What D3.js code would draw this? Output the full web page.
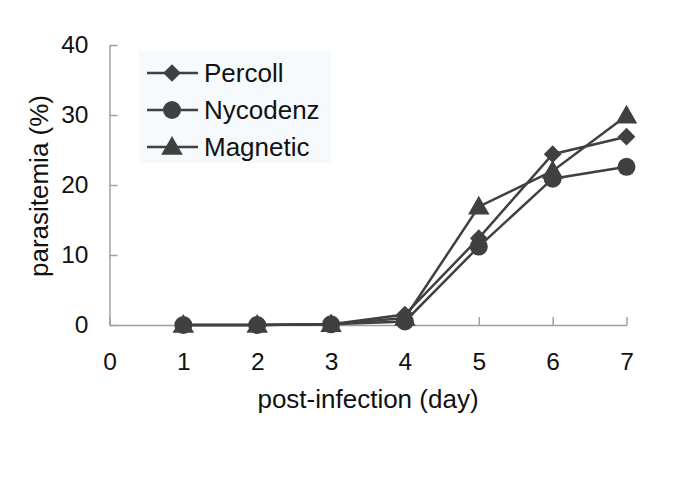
<!DOCTYPE html>
<html>
<head>
<meta charset="utf-8">
<script src="https://cdn.jsdelivr.net/npm/d3@7"></script>
<style>
  body { margin: 0; background: #fff; }
  text { font-family: "Liberation Sans", Arial, sans-serif; fill: #111; }
</style>
</head>
<body>
<script>
// data
const days = [1, 2, 3, 4, 5, 6, 7];
const percoll = [0, 0, 0.1, 1.5, 12.4, 24.4, 26.9];
const nycodenz = [0, 0, 0.1, 0.5, 11.2, 20.9, 22.6];
const magnetic = [0, 0, 0.1, 1.0, 16.9, 22.0, 29.9];
const seriesNames = ["Percoll", "Nycodenz", "Magnetic"];
const xTicks = [0, 1, 2, 3, 4, 5, 6, 7];
const yTicks = [0, 10, 20, 30, 40];

const width = 685, height = 495;
const ink = "#404040", axisColor = "#a0a0a0";
const fontSize = 26, tickFont = 24.5;

const svg = d3.select("body").append("svg")
    .attr("width", width)
    .attr("height", height);

const x = d3.scaleLinear().domain([0, 7]).range([109.5, 626.5]);
const y = d3.scaleLinear().domain([0, 40]).range([325, 45]);

// axes: ticks point inward
const xAxis = svg.append("g")
    .attr("transform", "translate(0," + y(0) + ")")
    .call(d3.axisBottom(x).tickValues(xTicks).tickFormat(d3.format("d"))
      .tickSizeInner(-8).tickSizeOuter(0).tickPadding(28));
const yAxis = svg.append("g")
    .attr("transform", "translate(" + x(0) + ",0)")
    .call(d3.axisLeft(y).tickValues(yTicks).tickFormat(d3.format("d"))
      .tickSizeInner(-8).tickSizeOuter(0).tickPadding(21));

[xAxis, yAxis].forEach(function(a) {
  a.select(".domain").attr("stroke", axisColor).attr("stroke-width", 1.5);
  a.selectAll(".tick line").attr("stroke", axisColor).attr("stroke-width", 1.5);
  a.selectAll(".tick text")
    .attr("font-size", tickFont)
    .attr("font-family", "Liberation Sans, Arial, sans-serif")
    .attr("fill", "#111");
});
xAxis.selectAll(".tick text").attr("dy", "0.71em");

svg.append("text")
    .attr("x", 368)
    .attr("y", 408)
    .attr("text-anchor", "middle")
    .attr("font-size", fontSize)
    .text("post-infection (day)");

svg.append("text")
    .attr("transform", "translate(48,186) rotate(-90)")
    .attr("text-anchor", "middle")
    .attr("font-size", fontSize)
    .text("parasitemia (%)");

const series = [
  { name: seriesNames[0], values: percoll, symbol: d3.symbolDiamond2, size: 200 },
  { name: seriesNames[1], values: nycodenz, symbol: d3.symbolCircle, size: 255 },
  { name: seriesNames[2], values: magnetic, symbol: d3.symbolTriangle, size: 200 }
];

const line = d3.line()
    .x(function(d, i) { return x(days[i]); })
    .y(function(d) { return y(d); });

series.forEach(function(s) {
  svg.append("path")
      .attr("d", line(s.values))
      .attr("fill", "none")
      .attr("stroke", ink)
      .attr("stroke-width", 2.5);
});

series.forEach(function(s) {
  const sym = d3.symbol().type(s.symbol).size(s.size);
  svg.selectAll(null)
      .data(s.values)
    .enter().append("path")
      .attr("d", sym)
      .attr("transform", function(d, i) {
        const dy = s.symbol === d3.symbolTriangle ? 1.5 : 0;
        return "translate(" + x(days[i]) + "," + (y(d) + dy) + ")";
      })
      .attr("fill", ink);
});

// legend
const legend = svg.append("g");
legend.append("rect")
    .attr("x", 139).attr("y", 51)
    .attr("width", 192).attr("height", 112)
    .attr("fill", "#f6fafc");

series.forEach(function(s, i) {
  const ly = 73 + i * 37;
  legend.append("line")
      .attr("x1", 147).attr("x2", 198)
      .attr("y1", ly).attr("y2", ly)
      .attr("stroke", ink).attr("stroke-width", 2.5);
  legend.append("path")
      .attr("d", d3.symbol().type(s.symbol).size(s.size)())
      .attr("transform", "translate(172," + (ly + (s.symbol === d3.symbolTriangle ? 1.5 : 0)) + ")")
      .attr("fill", ink);
  legend.append("text")
      .attr("x", 204)
      .attr("y", ly)
      .attr("dy", "0.36em")
      .attr("font-size", fontSize)
      .text(s.name);
});
</script>
</body>
</html>
